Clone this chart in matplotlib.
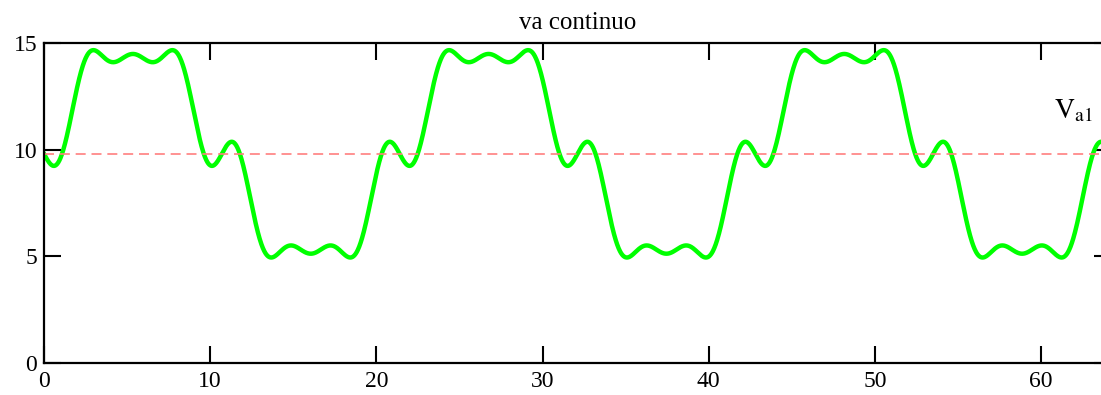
import numpy as np
import matplotlib
matplotlib.use('Agg')
import matplotlib.pyplot as plt

plt.rcParams['font.family'] = ['Liberation Serif', 'DejaVu Serif']
plt.rcParams['mathtext.fontset'] = 'stix'

# line voltage of the inverter: dc level plus harmonics 1, 5, 7
T = 21.4            # period
va_dc = 9.8         # "va continuo"
orders = [1, 5, 7]
amps = [4.97, -4.97/5, -4.97/7]
n_periods = 3

xticks = [0, 10, 20, 30, 40, 50, 60]
yticks = [0, 5, 10, 15]

t = np.linspace(0, n_periods*T, 3000)
va = va_dc + sum(a*np.sin(2*np.pi*n*t/T) for n, a in zip(orders, amps))

fig = plt.figure(figsize=(11.01, 3.95), dpi=100)
ax = fig.add_axes([44/1101, 32.3/395, (1111-44)/1101, (362.7-43)/395])

ax.plot(t, va, color='#00ff00', lw=3.2)
ax.axhline(va_dc, color='#ff7f7f', lw=1.2, dashes=(6, 3.5))

ax.set_xlim(0, n_periods*T)
ax.set_ylim(0, 15)
ax.set_xticks(xticks)
ax.set_yticks(yticks)
ax.tick_params(direction='in', length=12, width=1.5, top=True, right=True,
               labelsize=17, colors='black')
ax.tick_params(axis='x', pad=6)
ax.tick_params(axis='y', pad=5)
for s in ax.spines.values():
    s.set_linewidth(1.6)

ax.set_title('va continuo', fontsize=18, pad=10)
ax.text(60.8, 11.8, r'$\mathrm{V}_{\mathrm{a1}}$', fontsize=20, ha='left', va='center')

fig.savefig('out.png', dpi=100)
